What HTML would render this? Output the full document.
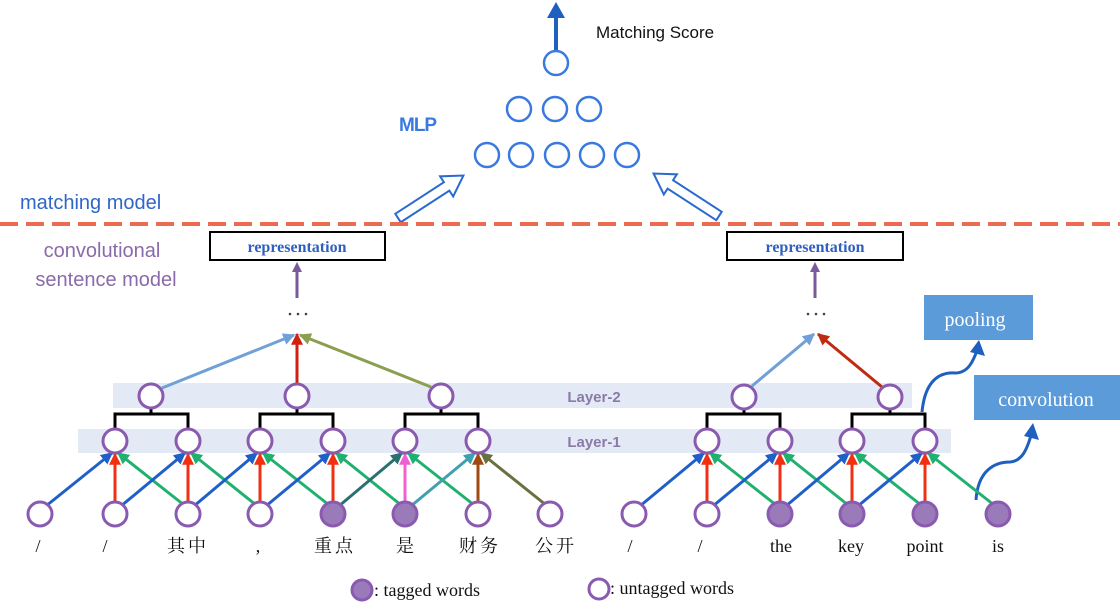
<!DOCTYPE html>
<html><head><meta charset="utf-8"><style>
html,body{margin:0;padding:0;background:#fff;}
svg{display:block;}
</style></head><body>
<svg width="1120" height="602" viewBox="0 0 1120 602" xmlns="http://www.w3.org/2000/svg" font-family="'Liberation Serif','Noto Serif CJK SC',serif">
<defs>
<marker id="ah" viewBox="0 0 10 10" refX="9" refY="5" markerWidth="4" markerHeight="4" orient="auto-start-reverse" markerUnits="strokeWidth"><path d="M0,0 L10,5 L0,10 z" fill="context-stroke"/></marker>
</defs>
<line x1="556" y1="50" x2="556" y2="8" stroke="#1f5fc0" stroke-width="4"/>
<path d="M547,18 L556,2 L565,18 Z" fill="#1f5fc0"/>
<text x="596" y="38" font-family="'Liberation Sans',sans-serif" font-size="17" fill="#111">Matching  Score</text>
<g fill="none" stroke="#3a7ae0" stroke-width="2.5">
<circle cx="556" cy="63" r="12"/>
<circle cx="519" cy="109" r="12"/><circle cx="555" cy="109" r="12"/><circle cx="589" cy="109" r="12"/>
<circle cx="487" cy="155" r="12"/><circle cx="521" cy="155" r="12"/><circle cx="557" cy="155" r="12"/><circle cx="592" cy="155" r="12"/><circle cx="627" cy="155" r="12"/>
</g>
<text x="399" y="131" font-family="'Liberation Sans',sans-serif" font-weight="bold" font-size="19" fill="#3a7ae0" letter-spacing="-1">MLP</text>
<g fill="#fff" stroke="#2a6ad0" stroke-width="2">
<polygon transform="translate(398,218) rotate(-33)" points="0,-5 58,-5 58,-12 78,0 58,12 58,5 0,5"/>
<polygon transform="translate(719,216) rotate(-147)" points="0,-5 58,-5 58,-12 78,0 58,12 58,5 0,5"/>
</g>
<line x1="0" y1="224" x2="1120" y2="224" stroke="#ec6a50" stroke-width="4" stroke-dasharray="18,8"/>
<text x="20" y="209" font-family="'Liberation Sans',sans-serif" font-size="20" fill="#2f66c8">matching model</text>
<text x="102" y="257" font-family="'Liberation Sans',sans-serif" font-size="20" fill="#8a6aaa" text-anchor="middle">convolutional</text>
<text x="106" y="286" font-family="'Liberation Sans',sans-serif" font-size="20" fill="#8a6aaa" text-anchor="middle">sentence model</text>
<rect x="210" y="232" width="175" height="28" fill="#fff" stroke="#000" stroke-width="2"/>
<text x="297" y="252" text-anchor="middle" font-weight="bold" font-size="16" fill="#2f5fc0">representation</text>
<rect x="727" y="232" width="176" height="28" fill="#fff" stroke="#000" stroke-width="2"/>
<text x="815" y="252" text-anchor="middle" font-weight="bold" font-size="16" fill="#2f5fc0">representation</text>
<line x1="297" y1="298" x2="297" y2="268" stroke="#7a5a9a" stroke-width="3"/><path d="M292,272 L297,262 L302,272Z" fill="#7a5a9a"/>
<line x1="815" y1="298" x2="815" y2="268" stroke="#7a5a9a" stroke-width="3"/><path d="M810,272 L815,262 L820,272Z" fill="#7a5a9a"/>
<g fill="#444"><circle cx="290" cy="314" r="1.3"/><circle cx="298" cy="314" r="1.3"/><circle cx="306" cy="314" r="1.3"/>
<circle cx="808" cy="314" r="1.3"/><circle cx="816" cy="314" r="1.3"/><circle cx="824" cy="314" r="1.3"/></g>
<rect x="113" y="383" width="799" height="25" fill="#e4eaf5"/>
<rect x="78" y="429" width="873" height="24" fill="#e4eaf5"/>
<text x="594" y="402" text-anchor="middle" font-family="'Liberation Sans',sans-serif" font-weight="bold" font-size="15" fill="#8a7aa8">Layer-2</text>
<text x="594" y="447" text-anchor="middle" font-family="'Liberation Sans',sans-serif" font-weight="bold" font-size="15" fill="#8a7aa8">Layer-1</text>
<rect x="924" y="295" width="109" height="45" fill="#5b9bd9"/>
<text x="975" y="326" text-anchor="middle" font-size="20" fill="#fff">pooling</text>
<rect x="974" y="375" width="146" height="45" fill="#5b9bd9"/>
<text x="1046" y="406" text-anchor="middle" font-size="20" fill="#fff">convolution</text>
<g fill="none" stroke="#1f5fc0" stroke-width="3">
<path d="M922,412 C925,380 940,372 955,373 C968,373 973,362 978,348"/>
<path d="M976,500 C978,470 995,462 1010,462 C1022,461 1027,450 1032,432"/>
</g>
<path d="M970,352 L979,340 L985,356Z" fill="#1f5fc0"/>
<path d="M1024,436 L1033,423 L1039,440Z" fill="#1f5fc0"/>
<g fill="none" stroke="#000" stroke-width="3">
<path d="M115,428 V414 H188 V428 M151,414 V408"/>
<path d="M260,428 V414 H333 V428 M297,414 V408"/>
<path d="M405,428 V414 H478 V428 M441,414 V408"/>
<path d="M707,428 V414 H780 V428 M744,414 V408"/>
<path d="M852,428 V414 H925 V428 M890,414 V408"/>
</g>
<g stroke-width="3" fill="none" marker-end="url(#ah)">
<line x1="162" y1="388" x2="294" y2="335" stroke="#6fa0d6"/>
<line x1="297" y1="384" x2="297" y2="334" stroke="#d02010"/>
<line x1="431" y1="387" x2="300" y2="335" stroke="#8aa050"/>
<line x1="752" y1="386" x2="814" y2="334" stroke="#6fa0d6"/>
<line x1="882" y1="387" x2="818" y2="334" stroke="#c02a10"/>
</g>
<g stroke-width="3" fill="none" marker-end="url(#ah)">
<line x1="46" y1="506" x2="112" y2="453" stroke="#1f5fc8"/>
<line x1="115" y1="501" x2="115" y2="454" stroke="#f03010"/>
<line x1="184" y1="505" x2="118" y2="453" stroke="#20b070"/>
<line x1="121" y1="506" x2="185" y2="453" stroke="#1f5fc8"/>
<line x1="188" y1="501" x2="188" y2="454" stroke="#f03010"/>
<line x1="256" y1="505" x2="191" y2="453" stroke="#20b070"/>
<line x1="194" y1="506" x2="257" y2="453" stroke="#1f5fc8"/>
<line x1="260" y1="501" x2="260" y2="454" stroke="#f03010"/>
<line x1="329" y1="505" x2="263" y2="453" stroke="#20b070"/>
<line x1="266" y1="506" x2="330" y2="453" stroke="#1f5fc8"/>
<line x1="333" y1="501" x2="333" y2="454" stroke="#f03010"/>
<line x1="401" y1="505" x2="336" y2="453" stroke="#20b070"/>
<line x1="339" y1="506" x2="402" y2="453" stroke="#2a7070"/>
<line x1="405" y1="501" x2="405" y2="454" stroke="#f060d0"/>
<line x1="474" y1="505" x2="408" y2="453" stroke="#20b070"/>
<line x1="411" y1="506" x2="475" y2="453" stroke="#40a0b0"/>
<line x1="478" y1="501" x2="478" y2="454" stroke="#a04a10"/>
<line x1="546" y1="505" x2="481" y2="453" stroke="#6a7040"/>
<line x1="640" y1="506" x2="704" y2="453" stroke="#1f5fc8"/>
<line x1="707" y1="501" x2="707" y2="454" stroke="#f03010"/>
<line x1="776" y1="505" x2="710" y2="453" stroke="#20b070"/>
<line x1="713" y1="506" x2="777" y2="453" stroke="#1f5fc8"/>
<line x1="780" y1="501" x2="780" y2="454" stroke="#f03010"/>
<line x1="848" y1="505" x2="783" y2="453" stroke="#20b070"/>
<line x1="786" y1="506" x2="849" y2="453" stroke="#1f5fc8"/>
<line x1="852" y1="501" x2="852" y2="454" stroke="#f03010"/>
<line x1="921" y1="505" x2="855" y2="453" stroke="#20b070"/>
<line x1="858" y1="506" x2="922" y2="453" stroke="#1f5fc8"/>
<line x1="925" y1="501" x2="925" y2="454" stroke="#f03010"/>
<line x1="994" y1="505" x2="928" y2="453" stroke="#20b070"/>
</g>
<g stroke="#8a5ab0" stroke-width="3" fill="#fff">
<circle cx="151" cy="396" r="12"/><circle cx="297" cy="396" r="12"/><circle cx="441" cy="396" r="12"/>
<circle cx="744" cy="397" r="12"/><circle cx="890" cy="397" r="12"/>
<circle cx="115" cy="441" r="12"/><circle cx="188" cy="441" r="12"/><circle cx="260" cy="441" r="12"/><circle cx="333" cy="441" r="12"/><circle cx="405" cy="441" r="12"/><circle cx="478" cy="441" r="12"/>
<circle cx="707" cy="441" r="12"/><circle cx="780" cy="441" r="12"/><circle cx="852" cy="441" r="12"/><circle cx="925" cy="441" r="12"/>
<circle cx="40" cy="514" r="12"/><circle cx="115" cy="514" r="12"/><circle cx="188" cy="514" r="12"/><circle cx="260" cy="514" r="12"/>
<circle cx="333" cy="514" r="12" fill="#9a7ab8"/><circle cx="405" cy="514" r="12" fill="#9a7ab8"/>
<circle cx="478" cy="514" r="12"/><circle cx="550" cy="514" r="12"/>
<circle cx="634" cy="514" r="12"/><circle cx="707" cy="514" r="12"/>
<circle cx="780" cy="514" r="12" fill="#9a7ab8"/><circle cx="852" cy="514" r="12" fill="#9a7ab8"/><circle cx="925" cy="514" r="12" fill="#9a7ab8"/><circle cx="998" cy="514" r="12" fill="#9a7ab8"/>
<circle cx="362" cy="590" r="10" fill="#9a7ab8"/><circle cx="599" cy="589" r="10"/>
</g>
<g font-size="18" fill="#111" text-anchor="middle">
<text x="38" y="552">/</text><text x="105" y="552">/</text><text x="188" y="552" letter-spacing="3">其中</text><text x="258" y="552">,</text>
<text x="335" y="552" letter-spacing="3">重点</text><text x="405" y="552">是</text><text x="480" y="552" letter-spacing="3">财务</text><text x="556" y="552" letter-spacing="3">公开</text>
<text x="630" y="552">/</text><text x="700" y="552">/</text><text x="781" y="552">the</text><text x="851" y="552">key</text><text x="925" y="552">point</text><text x="998" y="552">is</text>
</g>
<text x="374" y="596" font-size="18" fill="#111">: tagged words</text>
<text x="610" y="594" font-size="18" fill="#111">: untagged words</text>
</svg>
</body></html>
